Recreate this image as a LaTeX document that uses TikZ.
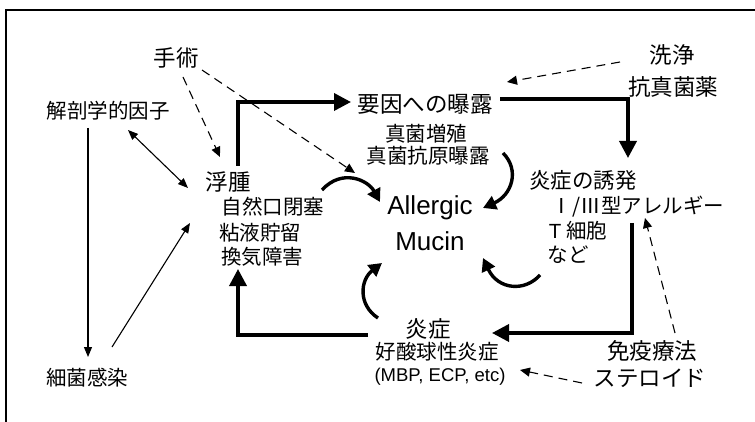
\documentclass[tikz,border=0pt]{standalone}
\usepackage{fontspec}
\setmainfont{Noto Sans CJK JP}
\newfontfamily\lat{Liberation Sans}
\usetikzlibrary{arrows.meta,calc}
\tikzset{
  big/.style={inner sep=0pt,font=\fontsize{22.5}{26}\selectfont},
  small/.style={inner sep=0pt,font=\fontsize{20.5}{24}\selectfont},
  latin/.style={inner sep=0pt,font=\lat\fontsize{26}{30}\selectfont},
  thickarrow/.style={line width=3.6pt,-{Triangle[length=17pt,width=17pt]}},
  curvearrow/.style={line width=3.4pt,-{Triangle[length=13pt,width=14pt]}},
  thinarrow/.style={line width=1.1pt,-{Triangle[length=10pt,width=8pt]}},
  dblarrow/.style={line width=1.1pt,{Triangle[length=10pt,width=8pt]}-{Triangle[length=10pt,width=8pt]}},
  dasharrow/.style={line width=1.1pt,dash pattern=on 9pt off 6pt,-{Triangle[length=10pt,width=9pt]}},
}
\begin{document}
\begin{tikzpicture}[x=1pt,y=-1pt]
\useasboundingbox (0,0) rectangle (755,422);
\fill[white] (0,0) rectangle (755,422);
% frame
\draw[line width=1.2pt] (6,422) -- (6,10) -- (755,10);
% nodes
\node[big] (shujutsu) at (176,58) {手術};
\node[small] (kaibou) at (108,111) {解剖学的因子};
\node[big] (fushu) at (228,182) {浮腫};
\node[small] (shizen) at (273,207) {自然口閉塞};
\node[small] (nenneki) at (260,233) {粘液貯留};
\node[small] (kanki) at (262,257) {換気障害};
\node[small] (saikin) at (87,378) {細菌感染};
\node[big] (youin) at (425,104) {要因への曝露};
\node[small] (shinkin) at (426,134) {真菌増殖};
\node[small] (kougen) at (428,156) {真菌抗原曝露};
\node[big] (senjo) at (672,55) {洗浄};
\node[big] (koshin) at (673,87) {抗真菌薬};
\node[small] (yuhatsu) at (583,180) {\fontsize{21.5}{24}\selectfont 炎症の誘発};
\node[small] (allergy) at (638,207) {Ⅰ/Ⅲ型アレルギー};
\node[small] (tcell) at (578,231) {{\lat T} 細胞};
\node[small] (nado) at (568,255) {など};
\node[latin] (allergic) at (430,208) {Allergic};
\node[latin] (mucin) at (430,241) {Mucin};
\node[big] (enshou) at (428,329) {炎症};
\node[small] (koshokyu) at (437,352) {好酸球性炎症};
\node[inner sep=0pt,font=\lat\fontsize{18.5}{22}\selectfont] (mbp) at (440,377) {(MBP, ECP, etc)};
\node[big] (meneki) at (652,351) {免疫療法};
\node[big] (steroid) at (650,378) {ステロイド};
% thick cycle
\draw[thickarrow] ($(fushu)+(10,-16)$) |- ($(youin)+(-74,-2)$);
\draw[thickarrow] ($(youin)+(75,-5)$) -| ($(yuhatsu)+(45,-22)$);
\draw[thickarrow] ($(allergy)+(-6,16)$) |- ($(koshokyu)+(55,-19)$);
\draw[thickarrow] ($(enshou)+(-60,6)$) -| ($(kanki)+(-24,12)$);
% curved arrows around Allergic Mucin
\draw[curvearrow] ($(shizen)+(49,-17)$) .. controls (342,168) and (368,180) .. ($(allergic)+(-50,-6)$);
\draw[curvearrow] ($(kougen)+(75,-3)$) .. controls (520,170) and (512,195) .. ($(allergic)+(53,0)$);
\draw[curvearrow] ($(nado)+(-28,20)$) .. controls (525,292) and (498,290) .. ($(mucin)+(53,17)$);
\draw[curvearrow] ($(enshou)+(-50,-11)$) .. controls (358,305) and (360,280) .. ($(mucin)+(-48,22)$);
% thin arrows
\draw[dblarrow] ($(kaibou)+(20,19)$) -- ($(fushu)+(-40,6)$);
\draw[thinarrow] ($(kaibou)+(-20,17)$) -- ($(saikin)+(1,-21)$);
\draw[thinarrow] ($(saikin)+(25,-31)$) -- ($(nenneki)+(-70,-10)$);
% dashed arrows
\draw[dasharrow] ($(shujutsu)+(7,19)$) -- ($(fushu)+(-8,-25)$);
\draw[dasharrow] ($(shujutsu)+(26,12)$) -- ($(allergic)+(-75,-35)$);
\draw[dasharrow] ($(senjo)+(-52,7)$) -- ($(youin)+(82,-22)$);
\draw[dasharrow] ($(meneki)+(23,-18)$) -- ($(allergy)+(7,11)$);
\draw[dasharrow] ($(steroid)+(-68,5)$) -- ($(mbp)+(80,-7)$);
\end{tikzpicture}
\end{document}
